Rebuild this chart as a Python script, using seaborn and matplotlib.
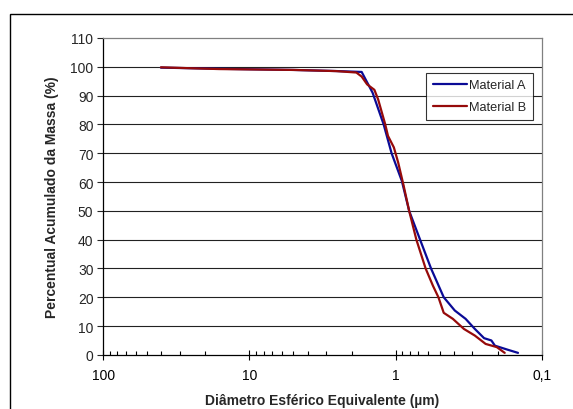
import matplotlib
matplotlib.use("Agg")
import matplotlib.pyplot as plt
import matplotlib.ticker as mticker
from matplotlib.patches import Rectangle
import pandas as pd
import seaborn as sns

# diâmetro (µm) e percentual acumulado
diam_a = [40.3, 16.0, 5.0, 2.5, 1.71, 1.44, 1.21, 1.068, 0.909, 0.81, 0.682,
          0.574, 0.47, 0.395, 0.333, 0.288, 0.249, 0.222, 0.21, 0.172, 0.146]
massa_a = [99.7, 99.3, 98.9, 98.5, 98.2, 91.0, 80.0, 70.0, 60.4, 50.0, 40.0,
           30.0, 20.0, 15.4, 12.5, 9.0, 5.8, 5.0, 3.2, 1.8, 0.7]

diam_b = [40.3, 16.1, 5.0, 2.56, 1.86, 1.71, 1.57, 1.40, 1.32, 1.18, 1.13,
          1.03, 0.963, 0.883, 0.81, 0.723, 0.625, 0.557, 0.511, 0.47, 0.407,
          0.342, 0.288, 0.243, 0.204, 0.18]
massa_b = [99.8, 99.2, 98.9, 98.5, 98.0, 96.6, 93.9, 92.0, 88.7, 80.0, 76.0,
           72.0, 66.8, 58.7, 50.0, 40.0, 30.0, 24.0, 20.0, 14.6, 12.5,
           9.0, 6.7, 3.8, 2.7, 0.7]

materiais = ["Material A", "Material B"]
cores = ["#0a0a96", "#960a0a"]

df = pd.concat([
    pd.DataFrame({"diam": diam_a, "massa": massa_a, "material": materiais[0]}),
    pd.DataFrame({"diam": diam_b, "massa": massa_b, "material": materiais[1]}),
])

sns.set_style("white")
plt.rcParams["font.family"] = ["Liberation Sans", "DejaVu Sans"]

fig = plt.figure(figsize=(5.73, 4.10), dpi=100)
ax = fig.add_axes([0.18, 0.132, 0.766, 0.773])

sns.lineplot(data=df, x="diam", y="massa", hue="material", palette=cores,
             sort=False, estimator=None, linewidth=1.6, ax=ax)

ax.set_xscale("log")
ax.set_xlim(100, 0.1)
ax.set_ylim(0, 110)
ax.set_yticks(range(0, 111, 10))
ax.xaxis.set_major_locator(mticker.FixedLocator([100, 10, 1, 0.1]))
ax.xaxis.set_major_formatter(mticker.FixedFormatter(["100", "10", "1", "0,1"]))
ax.xaxis.set_minor_locator(mticker.LogLocator(base=10, subs=range(2, 10)))
ax.xaxis.set_minor_formatter(mticker.NullFormatter())

for y in range(10, 101, 10):
    ax.axhline(y, color="#222222", linewidth=0.8, zorder=0)

ax.tick_params(axis="x", which="both", bottom=True, colors="black")
ax.tick_params(axis="x", which="major", direction="inout", length=7, width=0.8,
               labelsize=10, pad=6)
ax.tick_params(axis="x", which="minor", direction="in", length=3, width=0.8)
ax.tick_params(axis="y", which="major", direction="out", length=4, width=0.8,
               labelsize=10, pad=3, left=True)

for lado in ["left", "bottom"]:
    ax.spines[lado].set_color("black")
    ax.spines[lado].set_linewidth(0.9)
for lado in ["top", "right"]:
    ax.spines[lado].set_color("#808080")
    ax.spines[lado].set_linewidth(0.9)

ax.set_xlabel("Diâmetro Esférico Equivalente (µm)", fontsize=10,
              fontweight="bold", labelpad=8)
ax.set_ylabel("Percentual Acumulado da Massa (%)", fontsize=10,
              fontweight="bold", labelpad=8)

leg = ax.legend(loc="upper left", bbox_to_anchor=(0.736, 0.89), borderaxespad=0,
                fontsize=9.2, frameon=True, fancybox=False, handlelength=2.7,
                handletextpad=0.15, borderpad=0.5, labelspacing=0.8)
leg.get_frame().set_edgecolor("black")
leg.get_frame().set_linewidth(0.8)
leg.set_title(None)

# moldura externa da área do gráfico
fig.patches.append(Rectangle((10 / 573, -0.05), 1.1, 0.963 + 0.05,
                             transform=fig.transFigure, fill=False,
                             edgecolor="black", linewidth=1.0))

fig.savefig("out.png", dpi=100)
